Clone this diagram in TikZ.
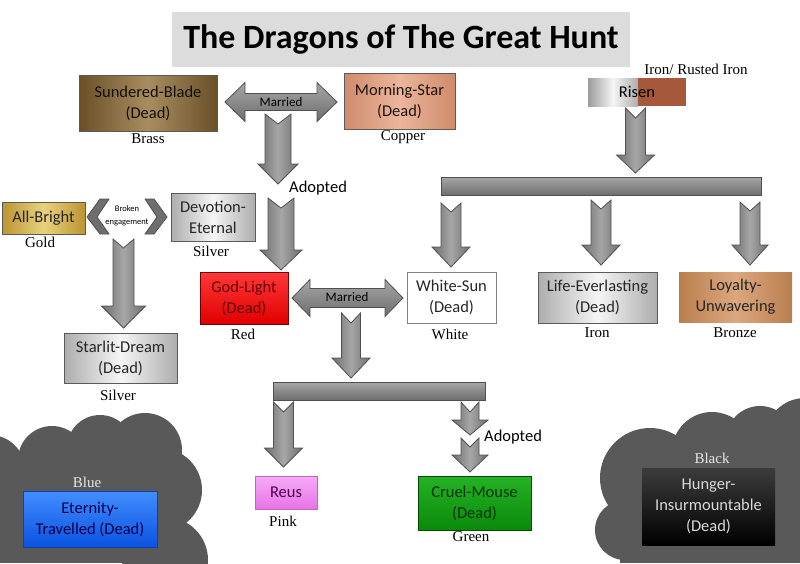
\documentclass[tikz,border=0pt]{standalone}
\usepackage{fontspec}
\setmainfont{Carlito}
\newfontfamily\labfont{Liberation Serif}
\definecolor{titlegray}{HTML}{DCDCDC}
\definecolor{boxline}{HTML}{5A5A5A}
\definecolor{arrline}{HTML}{505050}
\definecolor{arrD}{HTML}{6E6E6E}
\definecolor{arrL}{HTML}{A6A6A6}
\definecolor{cloudc}{HTML}{595959}
\definecolor{brassD}{HTML}{6A5028}
\definecolor{brassL}{HTML}{A88D60}
\definecolor{copD}{HTML}{CF8A6C}
\definecolor{copL}{HTML}{EBB69D}
\definecolor{goldD}{HTML}{BC9432}
\definecolor{goldL}{HTML}{E8D27E}
\definecolor{silD}{HTML}{ADADAD}
\definecolor{silL}{HTML}{F5F5F5}
\definecolor{bronD}{HTML}{B97F4E}
\definecolor{bronL}{HTML}{DCA77E}
\definecolor{rust}{HTML}{A5583A}
\definecolor{redT}{HTML}{FF3838}
\definecolor{redB}{HTML}{E00000}
\definecolor{pinkT}{HTML}{F7AAF7}
\definecolor{pinkB}{HTML}{E674E6}
\definecolor{greenT}{HTML}{25B225}
\definecolor{greenB}{HTML}{0A8A0A}
\definecolor{blueT}{HTML}{428EFF}
\definecolor{blueB}{HTML}{0A52E0}
\definecolor{blackT}{HTML}{3C3C3C}
\tikzset{
  box/.style={draw=boxline, line width=0.8pt, inner sep=0pt, align=center,
    font=\fontsize{16.5}{21}\selectfont, text=black!85},
  brass/.style={left color=brassD, right color=brassD, middle color=brassL, text=black!90!brown},
  copper/.style={left color=copD, right color=copD, middle color=copL, text=black!85!brown},
  gold/.style={left color=goldD, right color=goldD, middle color=goldL},
  silver/.style={left color=silD, right color=silD, middle color=silL},
  bronze/.style={left color=bronD, right color=bronD, middle color=bronL},
  redbox/.style={top color=redT, bottom color=redB, draw=red!45!black, text=red!40!black},
  whitebox/.style={fill=white, draw=gray},
  pinkbox/.style={top color=pinkT, bottom color=pinkB, draw=pinkB!85!black, text=violet!60!black},
  greenbox/.style={top color=greenT, bottom color=greenB, draw=green!30!black, text=green!20!black},
  bluebox/.style={top color=blueT, bottom color=blueB, draw=blueB!80!black, text=blue!30!black},
  blackbox/.style={top color=blackT, bottom color=black, draw=none, text=white!85!black},
  lab/.style={font=\labfont\fontsize{15}{17}\selectfont, inner sep=0pt},
  arrv/.style={draw=arrline, line width=0.8pt, left color=arrD, right color=arrD, middle color=arrL},
  arrh/.style={draw=arrline, line width=0.8pt, top color=arrL, bottom color=arrD},
  txt/.style={inner sep=0pt, font=\fontsize{16.5}{20}\selectfont},
  cloudfill/.style={fill=cloudc},
}
% down block arrow: cx top tip shaft-half head-half head-length notch
\newcommand\blkdown[7]{%
  \draw[arrv] ({#1-#4},#2) -- (#1,{#2+#7}) -- ({#1+#4},#2) -- ({#1+#4},{#3-#6})
    -- ({#1+#5},{#3-#6}) -- (#1,#3) -- ({#1-#5},{#3-#6}) -- ({#1-#4},{#3-#6}) -- cycle;}
% double block arrow: x1 x2 yc shaft-half head-half head-length
\newcommand\blkdouble[6]{%
  \draw[arrh] (#1,#3) -- ({#1+#6},{#3-#5}) -- ({#1+#6},{#3-#4}) -- ({#2-#6},{#3-#4})
    -- ({#2-#6},{#3-#5}) -- (#2,#3) -- ({#2-#6},{#3+#5}) -- ({#2-#6},{#3+#4})
    -- ({#1+#6},{#3+#4}) -- ({#1+#6},{#3+#5}) -- cycle;}
% box node: name x1 y1 x2 y2 style text
\newcommand\metalbox[7]{%
  \node[box,#6,minimum width={#4-#2},minimum height={#5-#3}] (#1) at ({(#2+#4)/2},{(#3+#5)/2}) {#7};}
\newcommand\cloudpart[3]{\fill[cloudfill] (#1,#2) circle (#3);}
\begin{document}
\begin{tikzpicture}[x=1pt,y=-1pt]
\useasboundingbox (0,0) rectangle (800,563);
\fill[white] (0,0) rectangle (800,563);

% clouds
\begin{scope}
\clip (0,0) rectangle (800,563);
\cloudpart{-10}{470}{35}
\cloudpart{52}{460}{34}
\cloudpart{100}{448}{33}
\cloudpart{145}{450}{37}
\cloudpart{160}{490}{42}
\cloudpart{165}{560}{43}
\fill[cloudfill] (0,462) rectangle (180,563);
\fill[cloudfill] (30,450) rectangle (160,470);
\cloudpart{650}{478}{50}
\cloudpart{625}{530}{30}
\cloudpart{712}{452}{40}
\cloudpart{760}{440}{34}
\cloudpart{805}{438}{40}
\fill[cloudfill] (620,470) rectangle (800,563);
\fill[cloudfill] (680,440) rectangle (800,470);
\end{scope}

% title
\node[fill=titlegray, minimum width=458, minimum height=55, inner sep=0pt,
  font=\fontsize{34}{40}\selectfont\bfseries] (title) at (401,39.5) {The Dragons of The Great Hunt};

% arrows (drawn first, boxes on top)
\blkdown{278}{114}{184}{13}{20}{20}{10}
\blkdouble{225}{337}{102}{8.5}{19.5}{20}
\node[inner sep=0pt, font=\fontsize{13}{15}\selectfont] (married1) at (281,102) {Married};
\blkdown{281}{198}{270}{13}{21}{20}{10}
\node[txt, anchor=west] (adopt1) at (289,188) {Adopted};

\blkdown{635.5}{108}{173}{10}{19}{18}{10}
\draw[arrh] (441,177) rectangle (761,195);
\coordinate (bar1) at (601,186);
\blkdown{451}{203}{267}{10}{19}{20}{9}
\blkdown{601}{200}{265}{10}{19}{20}{9}
\blkdown{750}{202}{265}{10}{18}{20}{9}

% broken engagement chevrons
\fill[arrD, draw=arrline, line width=0.8pt] (87,217) -- (100,199) -- (109,199) -- (97,217) -- (109,234) -- (100,234) -- cycle;
\fill[arrD, draw=arrline, line width=0.8pt] (167,217) -- (154,199) -- (145,199) -- (157,217) -- (145,234) -- (154,234) -- cycle;
\node[inner sep=0pt, align=center, font=\fontsize{8.5}{13.5}\selectfont] (broken) at (127,216) {Broken\\engagement};

\blkdown{123.5}{239}{328}{10.5}{22}{22}{9}

\blkdown{351}{313}{378}{9.5}{19}{20}{10}
\blkdouble{292}{403}{298}{9.5}{18.5}{18}
\node[inner sep=0pt, font=\fontsize{13}{15}\selectfont] (married2) at (347,297) {Married};

\draw[arrh] (273,382) rectangle (485,400);
\blkdown{283.5}{402}{467}{10}{19}{19}{10}
\blkdown{470}{402}{435}{9}{18}{15}{10}
\blkdown{470}{438}{472}{9}{18}{17}{9}
\node[txt, anchor=west] (adopt2) at (484,437) {Adopted};

% boxes
\metalbox{sundered}{79}{75}{217}{131}{brass}{Sundered-Blade\\(Dead)}
\node[lab] (brassl) at (148,139) {Brass};
\metalbox{morning}{344}{73}{455}{129}{copper}{Morning-Star\\(Dead)}
\node[lab] (copperl) at (403,137) {Copper};

\fill[left color=silD!90!black, right color=silD, middle color=silL] (588,78) rectangle (638,106);
\fill[rust] (638,78) rectangle (686,106);
\node[txt, minimum width=98, minimum height=28] (risen) at (637,92) {Risen};
\node[lab] (ironrust) at (696,69) {Iron/ Rusted Iron};

\metalbox{allbright}{2}{202}{85}{234}{gold}{All-Bright}
\node[lab] (goldl) at (40,242) {Gold};
\metalbox{devotion}{171}{193}{255}{241}{silver}{Devotion-\\Eternal}
\node[lab] (silverl1) at (211,251) {Silver};
\metalbox{starlit}{64}{333}{177}{383}{silver}{Starlit-Dream\\(Dead)}
\node[lab] (silverl2) at (118,395) {Silver};

\metalbox{godlight}{200}{272}{288}{324}{redbox}{God-Light\\(Dead)}
\node[lab] (redl) at (243,334) {Red};
\metalbox{whitesun}{407}{272}{496}{323}{whitebox}{White-Sun\\(Dead)}
\node[lab] (whitel) at (450,334) {White};
\metalbox{life}{538}{272}{657}{323}{silver}{Life-Everlasting\\(Dead)}
\node[lab] (ironl) at (597,333) {Iron};
\metalbox{loyalty}{679}{272}{792}{322}{bronze,draw=none}{Loyalty-\\Unwavering}
\node[lab] (bronzel) at (735,333) {Bronze};

\metalbox{reus}{255}{476}{317}{509}{pinkbox}{Reus}
\node[lab] (pinkl) at (283,521) {Pink};
\metalbox{cruel}{418}{476}{531}{530}{greenbox}{Cruel-Mouse\\(Dead)}
\node[lab] (greenl) at (471,537) {Green};

\node[lab, text=white!90!black] (bluel) at (87,482) {Blue};
\metalbox{eternity}{23}{491}{157}{547}{bluebox}{Eternity-\\Travelled (Dead)}
\node[lab, text=white!90!black] (blackl) at (712,458) {Black};
\metalbox{hunger}{642}{468}{775}{545}{blackbox}{Hunger-\\Insurmountable\\(Dead)}
\end{tikzpicture}
\end{document}
